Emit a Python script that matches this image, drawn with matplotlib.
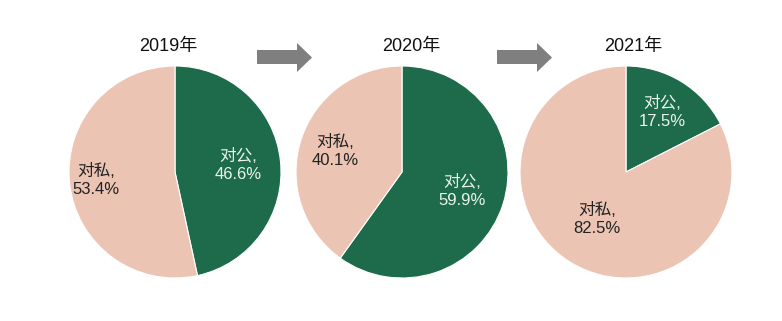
import numpy as np
import matplotlib
matplotlib.use("Agg")
import matplotlib.pyplot as plt
from matplotlib.patches import Polygon

plt.rcParams['font.family'] = ['Liberation Sans', 'Noto Sans CJK SC', 'DejaVu Sans']

# 数据
years = ["2019年", "2020年", "2021年"]
public_share = [46.6, 59.9, 17.5]    # 对公
private_share = [53.4, 40.1, 82.5]   # 对私
labels = ["对公", "对私"]

green = "#1d6b4b"
pink = "#ebc4b4"

W, H = 782, 321
fig = plt.figure(figsize=(W / 100, H / 100), dpi=100)

# 饼图位置(像素)
centers_x = [175, 402, 626]
title_x = [168, 411, 633]
center_y = 172
R = 106
# 标签离圆心的距离 (对公, 对私)
label_r = [(0.6, 0.75), (0.6, 0.66), (0.66, 0.52)]

for i, year in enumerate(years):
    cx = centers_x[i]
    ax = fig.add_axes([(cx - R) / W, (H - center_y - R) / H, 2 * R / W, 2 * R / H])
    vals = [public_share[i], private_share[i]]
    wedges, _ = ax.pie(vals, colors=[green, pink], startangle=90, counterclock=False,
                       wedgeprops=dict(edgecolor="white", linewidth=0.8))
    ax.set_xlim(-1, 1)
    ax.set_ylim(-1, 1)
    ax.set_aspect("equal")
    ax.axis("off")
    for j, w in enumerate(wedges):
        ang = np.deg2rad((w.theta1 + w.theta2) / 2)
        r = label_r[i][j]
        col = "#eaf4ec" if j == 0 else "#222222"
        ax.text(r * np.cos(ang), r * np.sin(ang), f"{labels[j]},\n{vals[j]:.1f}%",
                ha="center", va="center", fontsize=12, color=col, linespacing=1.25)
    fig.text(title_x[i] / W, 1 - 47 / H, year, ha="center", va="center", fontsize=13, color="#111111")

# 箭头
over = fig.add_axes([0, 0, 1, 1], zorder=-1)
over.set_xlim(0, W)
over.set_ylim(H, 0)
over.axis("off")
for x0 in [257, 497]:
    pts = [(x0, 50), (x0 + 40, 50), (x0 + 40, 43), (x0 + 55, 57.5),
           (x0 + 40, 72), (x0 + 40, 64), (x0, 64)]
    over.add_patch(Polygon(pts, closed=True, color="#7f7f7f", lw=0))

fig.savefig("out.png", dpi=100, facecolor="white")
